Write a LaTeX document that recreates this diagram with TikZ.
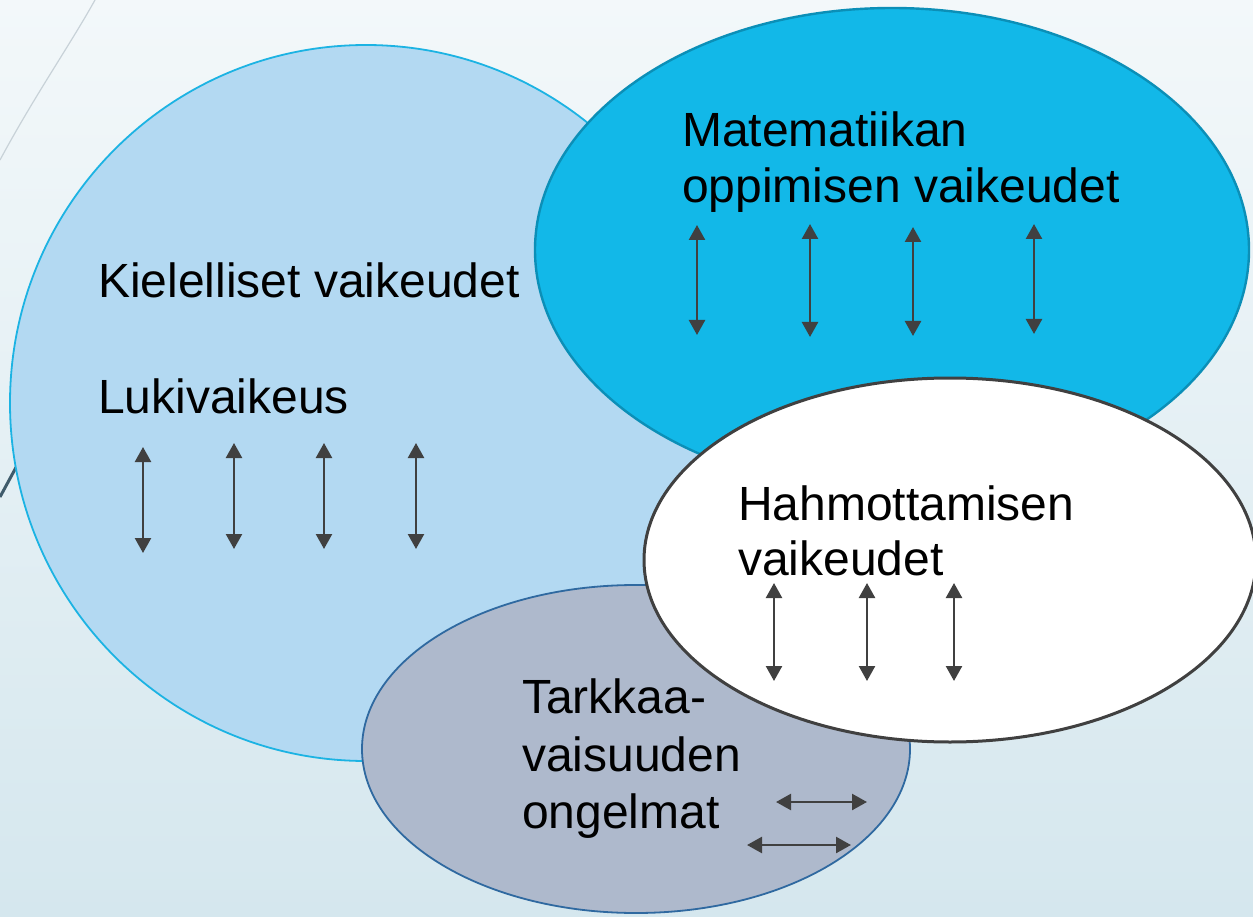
\documentclass[tikz,border=0pt]{standalone}
\usepackage{fontspec}
\setmainfont{Liberation Sans}
\usetikzlibrary{arrows.meta}
\definecolor{bgtop}{HTML}{F3F8FA}
\definecolor{bgbot}{HTML}{D5E7EE}
\definecolor{lightfill}{HTML}{B3D9F2}
\definecolor{lightline}{HTML}{1CB3E3}
\definecolor{mathfill}{HTML}{12B8E8}
\definecolor{mathline}{HTML}{0B8FB7}
\definecolor{whiteline}{HTML}{404040}
\definecolor{greyfill}{HTML}{AEB9CC}
\definecolor{greyline}{HTML}{2F69A0}
\definecolor{arrowcol}{HTML}{404040}
\definecolor{thinline}{HTML}{C8D2D8}
\definecolor{darkarc}{HTML}{3F5B6B}
\tikzset{
  dbl/.style={arrowcol, line width=2.4pt, {Triangle[width=16pt,length=15pt]}-{Triangle[width=16pt,length=15pt]}},
  lbl/.style={anchor=base west, inner sep=0pt, font=\fontsize{48}{57}\selectfont},
}
\begin{document}
\begin{tikzpicture}[x=1pt,y=-1pt]
\useasboundingbox (0,0) rectangle (1253,917);
\shade[top color=bgtop, bottom color=bgbot] (0,0) rectangle (1253,917);
% background decorations
\draw[thinline, line width=1.2pt] (95,0) .. controls (70,45) and (35,95) .. (0,160);
\draw[darkarc, line width=3pt] (0,497) -- (20,460);
% ellipses
\draw[fill=lightfill, draw=lightline, line width=1.8pt] (366,403) ellipse [x radius=356, y radius=358];
\draw[fill=mathfill, draw=mathline, line width=2.4pt] (892,250) ellipse [x radius=357, y radius=242];
\draw[fill=greyfill, draw=greyline, line width=1.8pt] (636,749) ellipse [x radius=274, y radius=164];
\draw[fill=white, draw=whiteline, line width=3pt] (950,560) ellipse [x radius=306, y radius=182];
% texts
\node[lbl] (kiel) at (98,298) {Kielelliset vaikeudet};
\node[lbl] (luki) at (98,413) {Lukivaikeus};
\node[lbl] (mat1) at (682,147) {Matematiikan};
\node[lbl] (mat2) at (682,203) {oppimisen vaikeudet};
\node[lbl] (hah1) at (738,520) {Hahmottamisen};
\node[lbl] (hah2) at (738,575) {vaikeudet};
\node[lbl] (tar1) at (522,713) {Tarkkaa-};
\node[lbl] (tar2) at (522,771) {vaisuuden};
\node[lbl] (tar3) at (522,828) {ongelmat};
% arrows: language
\coordinate (a1t) at (143,447); \coordinate (a1b) at (143,553);
\coordinate (a2t) at (234,443); \coordinate (a2b) at (234,549);
\coordinate (a3t) at (324,443); \coordinate (a3b) at (324,549);
\coordinate (a4t) at (416,443); \coordinate (a4b) at (416,549);
\draw[dbl] (a1t) -- (a1b);
\draw[dbl] (a2t) -- (a2b);
\draw[dbl] (a3t) -- (a3b);
\draw[dbl] (a4t) -- (a4b);
% arrows: math
\coordinate (m1t) at (697,225); \coordinate (m1b) at (697,335);
\coordinate (m2t) at (810,224); \coordinate (m2b) at (810,337);
\coordinate (m3t) at (913,227); \coordinate (m3b) at (913,336);
\coordinate (m4t) at (1034,224); \coordinate (m4b) at (1034,334);
\draw[dbl] (m1t) -- (m1b);
\draw[dbl] (m2t) -- (m2b);
\draw[dbl] (m3t) -- (m3b);
\draw[dbl] (m4t) -- (m4b);
% arrows: perception
\coordinate (h1t) at (774,583); \coordinate (h1b) at (774,681);
\coordinate (h2t) at (867,583); \coordinate (h2b) at (867,681);
\coordinate (h3t) at (954,583); \coordinate (h3b) at (954,681);
\draw[dbl] (h1t) -- (h1b);
\draw[dbl] (h2t) -- (h2b);
\draw[dbl] (h3t) -- (h3b);
% arrows: attention
\coordinate (t1l) at (776,802); \coordinate (t1r) at (867,802);
\coordinate (t2l) at (747,845); \coordinate (t2r) at (851,845);
\draw[dbl] (t1l) -- (t1r);
\draw[dbl] (t2l) -- (t2r);
\end{tikzpicture}
\end{document}
